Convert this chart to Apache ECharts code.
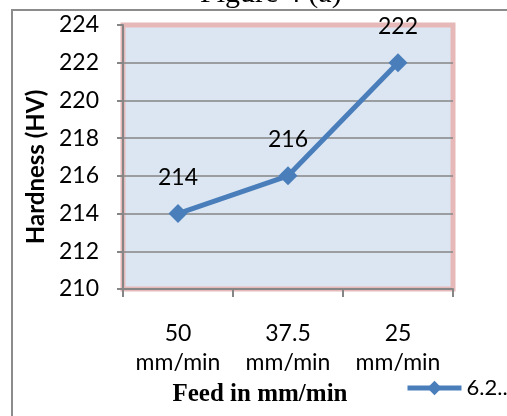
<!DOCTYPE html>
<html>
<head>
<meta charset="utf-8">
<script src="https://cdn.jsdelivr.net/npm/echarts@6/dist/echarts.min.js"></script>
<style>html,body{margin:0;padding:0;background:#fff;}#c{width:507px;height:416px;}</style>
</head>
<body>
<div id="c"></div>
<script>
var categories = ['50\nmm/min', '37.5\nmm/min', '25\nmm/min'];
var hardness = [214, 216, 222];
var seriesName = '6.2..';
var yTicks = { min: 210, max: 224, interval: 2 };
var chartTitle = 'Figure 4 (a)';
var xTitle = 'Feed in mm/min';
var yTitle = 'Hardness (HV)';

var chart = echarts.init(document.getElementById('c'), null, { renderer: 'canvas' });
var sans = 'Lato';
chart.setOption({
  animation: false,
  backgroundColor: '#ffffff',
  graphic: [
    { type: 'polyline', shape: { points: [[12, 420], [12, 10], [520, 10]] },
      style: { stroke: '#8c8c8c', lineWidth: 2, fill: null }, z: 0 },
    { type: 'text', left: 200, top: -21,
      style: { text: chartTitle, font: '30px "Liberation Serif"', fill: '#000' }, z: 1 }
  ],
  grid: { left: 123, right: 54, top: 25, bottom: 127, show: true,
    backgroundColor: '#DCE6F2', borderColor: '#E6B9B8', borderWidth: 5 },
  legend: { show: true, left: 405, top: 377, padding: 0, itemWidth: 54, itemHeight: 18, itemGap: 4,
    lineStyle: { width: 5, color: '#4A7EBB' },
    textStyle: { fontFamily: sans, fontSize: 22, color: '#000' },
    data: [{ name: seriesName, lineStyle: { width: 5 } }] },
  xAxis: {
    type: 'category', data: categories, boundaryGap: true,
    axisLine: { show: true, lineStyle: { color: '#868686', width: 2 } },
    axisTick: { show: true, length: 8, lineStyle: { color: '#868686', width: 2 } },
    axisLabel: { interval: 0, fontFamily: sans, fontSize: 23, color: '#000', lineHeight: 29, margin: 30 },
    name: xTitle, nameLocation: 'middle', nameGap: 86,
    nameTextStyle: { fontFamily: '"Liberation Serif"', fontWeight: 'bold', fontSize: 25, color: '#000', padding: [0, 56, 0, 0] }
  },
  yAxis: {
    type: 'value', min: yTicks.min, max: yTicks.max, interval: yTicks.interval,
    axisLine: { show: true, lineStyle: { color: '#868686', width: 2 } },
    axisTick: { show: true, length: 6, lineStyle: { color: '#868686', width: 2 } },
    axisLabel: { fontFamily: sans, fontSize: 23, color: '#000', margin: 24 },
    splitLine: { show: true, showMaxLine: false, lineStyle: { color: '#868686', width: 1.5 } },
    name: yTitle, nameLocation: 'middle', nameGap: 70, nameRotate: 90,
    nameTextStyle: { fontFamily: sans, fontWeight: 'bold', fontSize: 24, color: '#000', padding: [0, 20, 0, 0] }
  },
  series: [{
    name: seriesName, type: 'line', data: hardness,
    symbol: 'diamond', symbolSize: 19,
    lineStyle: { color: '#4A7EBB', width: 5 },
    itemStyle: { color: '#4A7EBB' },
    label: { show: true, position: 'top', distance: 15, fontFamily: sans, fontSize: 23, color: '#000' }
  }]
});
</script>
</body>
</html>
